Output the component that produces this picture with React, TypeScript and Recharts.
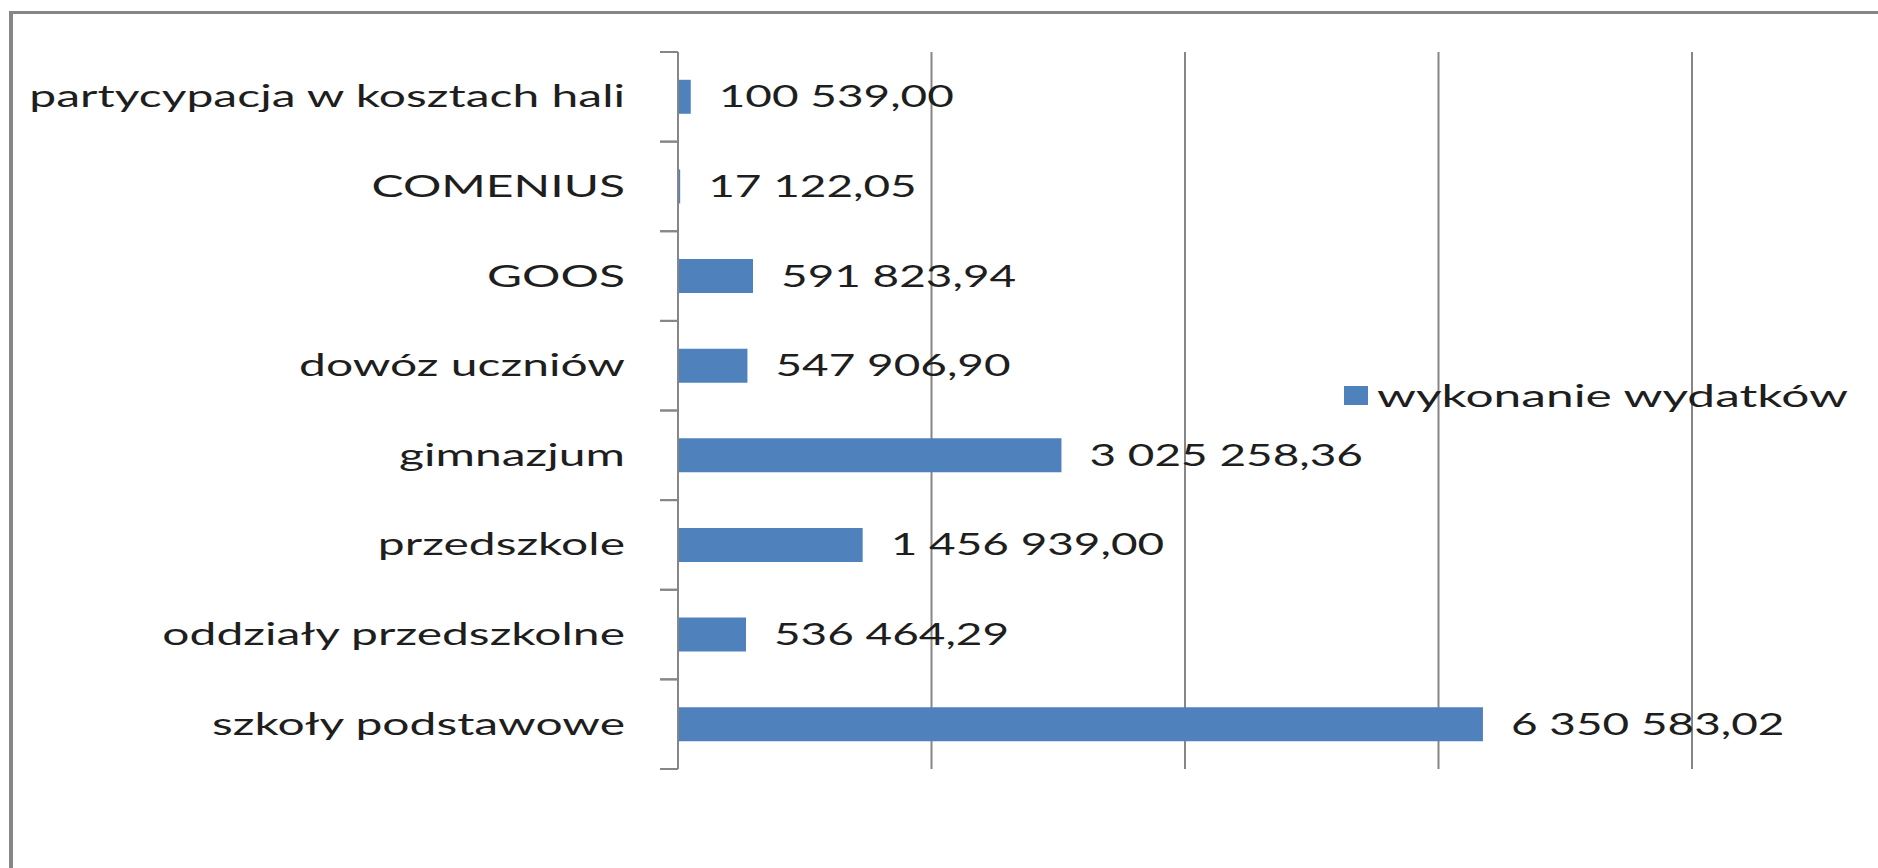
import React from "react";
import {
  BarChart,
  Bar,
  XAxis,
  YAxis,
  CartesianGrid,
  Legend,
  LabelList,
} from "recharts";

// categories top -> bottom, as in the source chart
const categories: string[] = [
  "partycypacja w kosztach hali",
  "COMENIUS",
  "GOOS",
  "dowóz uczniów",
  "gimnazjum",
  "przedszkole",
  "oddziały przedszkolne",
  "szkoły podstawowe",
];

const wydatki: number[] = [
  100539.0, 17122.05, 591823.94, 547906.9, 3025258.36, 1456939.0, 536464.29,
  6350583.02,
];

const xTicks: number[] = [0, 2000000, 4000000, 6000000, 8000000];

const SERIES_NAME = "wykonanie wydatków";

const data = categories.map((name, i) => ({ name, value: wydatki[i] }));

const BAR_COLOR = "#4F81BD";
const LINE_COLOR = "#868686";
const TEXT_COLOR = "#1e1e1e";
const FONT = "Lato, 'Open Sans', sans-serif";
const FONT_SIZE = 30;
const STRETCH = 1.6; // source picture is stretched horizontally
const DIGIT_STRETCH = 1.53;

const fmt = (v: number) => {
  const [i, d] = v.toFixed(2).split(".");
  return i.replace(/\B(?=(\d{3})+(?!\d))/g, " ") + "," + d;
};

type TickProps = {
  x?: number;
  y?: number;
  payload?: { value: string; offset?: number };
};

const renderCategoryTick = (props: TickProps) => {
  const x = Number(props.x ?? 0);
  const y = Number(props.y ?? 0);
  const half = props.payload?.offset ?? 45;
  const labelX = x - 53;
  return (
    <g>
      <line x1={x - 18} x2={x} y1={y - half} y2={y - half} stroke={LINE_COLOR} strokeWidth={2} />
      <line x1={x - 18} x2={x} y1={y + half} y2={y + half} stroke={LINE_COLOR} strokeWidth={2} />
      <text
        transform={`translate(${labelX} ${y}) scale(${STRETCH} 1)`}
        textAnchor="end"
        dy="0.35em"
        fontFamily={FONT}
        fontSize={FONT_SIZE}
        fill={TEXT_COLOR}
      >
        {props.payload?.value}
      </text>
    </g>
  );
};

const renderValueLabel = (props: any) => {
  const x = Number(props.x) + Number(props.width) + 28;
  const y = Number(props.y) + Number(props.height) / 2;
  return (
    <text
      transform={`translate(${x} ${y}) scale(${DIGIT_STRETCH} 1)`}
      textAnchor="start"
      dy="0.35em"
      fontFamily={FONT}
      fontSize={FONT_SIZE}
      fill={TEXT_COLOR}
    >
      {fmt(Number(props.value))}
    </text>
  );
};

const renderLegend = () => (
  <div style={{ display: "flex", alignItems: "center", height: 34 }}>
    <span
      style={{
        display: "inline-block",
        width: 24,
        height: 19,
        background: BAR_COLOR,
        marginRight: 9,
      }}
    />
    <span
      style={{
        display: "inline-block",
        fontFamily: FONT,
        fontSize: FONT_SIZE,
        lineHeight: "34px",
        color: TEXT_COLOR,
        transform: "scaleX(1.655)",
        transformOrigin: "left center",
        whiteSpace: "nowrap",
      }}
    >
      {SERIES_NAME}
    </span>
  </div>
);

export default function App() {
  return (
    <div
      style={{
        position: "absolute",
        left: 0,
        top: 0,
        width: 1878,
        height: 868,
        background: "#fff",
        overflow: "hidden",
      }}
    >
      <div
        style={{
          position: "absolute",
          left: 9,
          top: 11,
          width: 1869,
          height: 857,
          borderLeft: `4px solid ${LINE_COLOR}`,
          borderTop: `3px solid ${LINE_COLOR}`,
          boxSizing: "border-box",
        }}
      />
      <div style={{ position: "absolute", left: 0, top: 0 }}>
        <BarChart
          width={1878}
          height={868}
          data={data}
          layout="vertical"
          margin={{ top: 52, right: 186, bottom: 99, left: 0 }}
          barCategoryGap="31%"
        >
          <CartesianGrid
            horizontal={false}
            stroke={LINE_COLOR}
            strokeWidth={2}
          />
          <XAxis
            type="number"
            domain={[0, 8000000]}
            ticks={xTicks}
            hide
          />
          <YAxis
            type="category"
            dataKey="name"
            width={678}
            tickSize={0}
            tickMargin={0}
            tickLine={false}
            axisLine={{ stroke: LINE_COLOR, strokeWidth: 2 }}
            tick={renderCategoryTick}
            interval={0}
          />
          <Legend
            layout="horizontal"
            verticalAlign="middle"
            align="center"
            content={renderLegend}
            wrapperStyle={{ left: 1344, top: 378, width: 530 }}
          />
          <Bar
            dataKey="value"
            name={SERIES_NAME}
            fill={BAR_COLOR}
            isAnimationActive={false}
          >
            <LabelList dataKey="value" content={renderValueLabel} />
          </Bar>
        </BarChart>
      </div>
    </div>
  );
}
